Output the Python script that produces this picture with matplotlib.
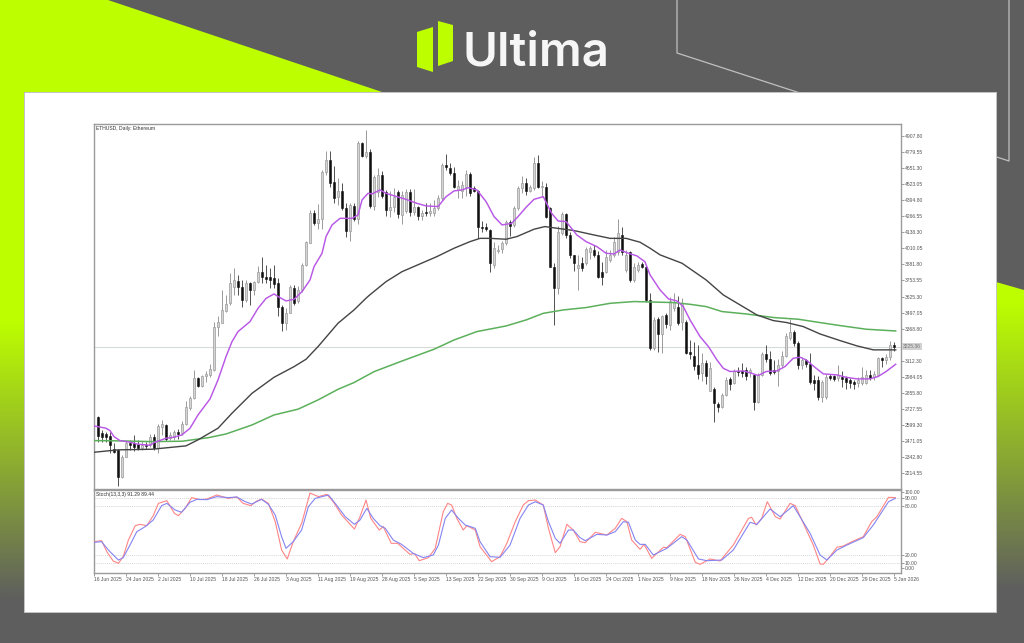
import numpy as np
import matplotlib
matplotlib.use('Agg')
import matplotlib.pyplot as plt
from matplotlib.colors import LinearSegmentedColormap
from matplotlib.patches import Polygon, Rectangle

plt.rcParams['font.family'] = ['Liberation Sans', 'DejaVu Sans']

opens = [2666, 2533, 2527, 2511, 2405, 2400, 2187, 2346, 2453, 2453,
         2448, 2413, 2440, 2440, 2506, 2413, 2581, 2600, 2493, 2506,
         2546, 2533, 2607, 2733, 2812, 2972, 2911, 2990, 3002, 3039,
         3385, 3417, 3513, 3570, 3705, 3752, 3705, 3600, 3730, 3678,
         3745, 3819, 3784, 3780, 3771, 3731, 3545, 3417, 3492, 3696,
         3590, 3678, 3878, 4056, 4290, 4210, 4245, 4623, 4716, 4538,
         4418, 4469, 4330, 4152, 4350, 4243, 4850, 4748, 4783, 4349,
         4463, 4597, 4463, 4317, 4340, 4463, 4277, 4312, 4463, 4304,
         4338, 4269, 4304, 4296, 4296, 4330, 4410, 4676, 4655, 4615,
         4477, 4472, 4503, 4605, 4490, 4472, 4184, 4178, 4157, 3878,
         3990, 4003, 4051, 4224, 4197, 4330, 4495, 4535, 4472, 4490,
         4690, 4498, 4503, 4330, 3864, 3691, 4131, 4282, 4117, 3957,
         3851, 3891, 3891, 3984, 3997, 3957, 3824, 3824, 3917, 3957,
         3984, 4117, 3838, 3984, 3758, 3838, 3886, 3864, 3598, 3212,
         3444, 3324, 3478, 3398, 3531, 3545, 3425, 3425, 3185, 3151,
         3079, 3012, 3092, 2874, 2887, 2767, 2746, 2839, 2964, 2932,
         3033, 3033, 3039, 3025, 2999, 2786, 2999, 3167, 3124, 3039,
         3033, 3079, 3151, 3292, 3345, 3252, 3079, 3119, 3087, 2959,
         2959, 2820, 2820, 2991, 2991, 2972, 2986, 2972, 2959, 2946,
         2932, 2932, 2938, 2999, 2980, 2999, 3132, 3119, 3145, 3239]
closes = [2512, 2506, 2506, 2440, 2384, 2187, 2346, 2453, 2437, 2426,
          2413, 2440, 2432, 2506, 2413, 2591, 2607, 2485, 2520, 2546,
          2527, 2607, 2740, 2812, 2972, 2911, 2991, 3005, 3044, 3385,
          3425, 3518, 3566, 3736, 3758, 3705, 3600, 3730, 3678, 3745,
          3819, 3780, 3763, 3758, 3726, 3540, 3417, 3497, 3705, 3571,
          3678, 3878, 4059, 4290, 4210, 4245, 4623, 4716, 4530, 4410,
          4469, 4330, 4152, 4357, 4243, 4855, 4748, 4783, 4349, 4583,
          4597, 4429, 4317, 4344, 4418, 4285, 4437, 4463, 4304, 4338,
          4269, 4296, 4290, 4312, 4330, 4410, 4676, 4658, 4615, 4503,
          4509, 4517, 4605, 4450, 4472, 4184, 4170, 4165, 3891, 4011,
          4000, 4051, 4224, 4189, 4330, 4495, 4530, 4472, 4498, 4690,
          4503, 4510, 4264, 3864, 3691, 4144, 4282, 4117, 3957, 3891,
          3878, 3851, 4003, 4011, 3957, 3784, 3784, 3944, 3958, 4064,
          4131, 3984, 3957, 3758, 3864, 3878, 3864, 3598, 3212, 3438,
          3324, 3470, 3406, 3593, 3585, 3412, 3571, 3177, 3167, 3071,
          3007, 3097, 2991, 3052, 2772, 2746, 2839, 2959, 2927, 3033,
          3023, 3012, 2991, 3039, 2786, 2999, 3167, 3124, 3018, 3023,
          3079, 3151, 3310, 3345, 3252, 3079, 3119, 3087, 2946, 2938,
          2820, 2946, 2986, 2975, 2970, 2999, 2965, 2946, 2938, 2924,
          2959, 2986, 2999, 2972, 3007, 3132, 3119, 3145, 3239, 3225]
highs = [2671, 2560, 2546, 2546, 2453, 2405, 2360, 2480, 2480, 2520,
         2475, 2470, 2460, 2530, 2530, 2605, 2635, 2610, 2540, 2560,
         2565, 2630, 2790, 2830, 3040, 2985, 3000, 3030, 3085, 3420,
         3470, 3678, 3640, 3816, 3851, 3800, 3755, 3760, 3745, 3750,
         3866, 3940, 3880, 3855, 3880, 3770, 3560, 3530, 3720, 3715,
         3710, 3890, 4070, 4315, 4320, 4365, 4635, 4785, 4785, 4665,
         4570, 4530, 4370, 4375, 4370, 4865, 4860, 4955, 4800, 4600,
         4655, 4625, 4480, 4470, 4490, 4480, 4470, 4485, 4485, 4485,
         4345, 4320, 4375, 4370, 4400, 4440, 4695, 4765, 4690, 4660,
         4560, 4550, 4640, 4620, 4510, 4480, 4225, 4210, 4165, 4060,
         4040, 4065, 4240, 4235, 4345, 4505, 4590, 4570, 4520, 4740,
         4755, 4545, 4530, 4340, 3890, 4190, 4300, 4290, 4140, 3960,
         3960, 3945, 4020, 4030, 4040, 3985, 3900, 3995, 4000, 4100,
         4245, 4180, 4000, 3990, 3890, 3905, 3905, 3880, 3650, 3460,
         3460, 3480, 3490, 3625, 3650, 3630, 3610, 3440, 3280, 3260,
         3240, 3175, 3115, 3100, 2900, 2785, 2855, 2980, 2985, 3050,
         3060, 3095, 3060, 3055, 3010, 3012, 3180, 3235, 3190, 3120,
         3130, 3190, 3330, 3445, 3360, 3270, 3140, 3130, 3170, 3000,
         2990, 2960, 3005, 3010, 3000, 3075, 3030, 2990, 2975, 2960,
         2985, 3060, 3040, 3035, 3030, 3145, 3140, 3165, 3268, 3260]
lows = [2466, 2466, 2466, 2373, 2373, 2112, 2173, 2341, 2400, 2394,
        2400, 2395, 2410, 2420, 2395, 2373, 2520, 2470, 2480, 2480,
        2490, 2515, 2600, 2720, 2805, 2900, 2900, 2945, 2985, 3030,
        3310, 3415, 3500, 3555, 3640, 3640, 3540, 3580, 3555, 3640,
        3735, 3730, 3730, 3690, 3690, 3470, 3353, 3360, 3490, 3560,
        3575, 3660, 3870, 4055, 4200, 4165, 4165, 4600, 4500, 4370,
        4360, 4320, 4100, 4065, 4225, 4205, 4740, 4730, 4335, 4320,
        4420, 4410, 4265, 4260, 4300, 4252, 4205, 4290, 4265, 4280,
        4235, 4240, 4270, 4265, 4270, 4320, 4395, 4640, 4600, 4490,
        4415, 4410, 4430, 4430, 4460, 4090, 4140, 4145, 3820, 3855,
        3975, 3970, 4035, 4110, 4180, 4320, 4450, 4440, 4460, 4480,
        4490, 4420, 4250, 3862, 3399, 3645, 4120, 4090, 3930, 3830,
        3678, 3830, 3880, 3925, 3940, 3770, 3715, 3810, 3900, 3945,
        3960, 3960, 3820, 3745, 3745, 3825, 3850, 3585, 3200, 3200,
        3180, 3175, 3370, 3360, 3510, 3395, 3360, 3165, 3130, 3040,
        2970, 2950, 2930, 2870, 2625, 2700, 2735, 2830, 2880, 2925,
        2990, 2985, 2960, 2980, 2720, 2775, 2990, 3100, 3000, 3010,
        2910, 3060, 3140, 3280, 3230, 3050, 3050, 3060, 2930, 2880,
        2800, 2786, 2810, 2960, 2950, 2950, 2900, 2890, 2895, 2890,
        2905, 2920, 2925, 2960, 2960, 2990, 3060, 3090, 3120, 3190]

# moving averages, read at a bar position then value
purple_bars = [-1, 2, 3, 4, 5.5, 8, 10, 13, 14, 17, 19, 21, 23, 25, 28, 30, 32, 33.5, 35, 38, 40, 42,
               44, 45, 47, 49, 51, 53, 54, 56, 57, 58.5, 60.5, 63.5, 65, 66, 67.5,
               68.5, 70.5, 72, 74.7, 77, 79.7, 82, 85, 87, 89, 91, 92.6, 94.7, 97, 99, 101, 103.4, 105,
               107, 109, 111.3, 113.4, 115, 117, 119.7, 122, 124.7, 127, 129, 130.5, 132.6, 134.7,
               135.5, 136.7, 138, 140.5, 142.6, 144.7, 146.3, 148, 150.5, 152.6, 154.7, 156.3, 158,
               161.3, 163.4, 165, 167, 169.7, 171.7, 173.8, 175.5, 177, 179, 181.3, 184.7, 187, 189.7,
               193, 195, 197, 199.4]
purple_ma = [2591, 2573, 2554, 2506, 2474, 2461, 2445, 2437, 2458, 2493, 2501, 2520, 2573, 2679, 2807,
             2959, 3145, 3265, 3345, 3425, 3531, 3610,
             3646, 3625, 3590, 3603, 3665, 3758, 3864, 3971, 4104, 4197, 4250, 4250, 4277, 4397, 4450,
             4445, 4477, 4450, 4423, 4402, 4370, 4349, 4344, 4423, 4469, 4477, 4495, 4477, 4384, 4264,
             4197, 4210, 4264, 4338, 4402, 4423, 4290, 4229, 4224, 4117, 4064, 4024, 3971, 3965, 3997,
             3971, 3950, 3931, 3904, 3798, 3678, 3606, 3590, 3545, 3438, 3305, 3225, 3119, 3052, 3026,
             3031, 3012, 2994, 3026, 3031, 3065, 3132, 3140, 3119, 3065, 3007, 2999, 2980, 2967,
             2967, 2986, 3026, 3084]
black_bars = [-1, 5, 13.5, 22, 25, 30, 33.5, 38.5, 44, 49, 52, 55, 60, 64, 67, 68, 72, 76, 80.5, 84.7, 89,
              93, 95.5, 98, 102, 104.7, 109, 111.7, 114.7, 119, 124, 128, 132, 135.5, 138, 140.5, 146,
              152, 156.3, 160.5, 164.7, 168.8, 172.2, 176.3, 180.5, 185.5, 189.7, 193.8, 199.4]
black_ma = [2381, 2400, 2405, 2432, 2480, 2573, 2693, 2852, 2980, 3065, 3124, 3225, 3412, 3518, 3612,
            3640, 3744, 3824, 3886, 3944, 4011, 4064, 4090, 4090, 4083, 4104, 4163, 4184, 4171, 4152,
            4117, 4090, 4090, 4059, 4011, 3958, 3891, 3758, 3638, 3558, 3478, 3433, 3417, 3385, 3326,
            3273, 3231, 3199, 3199]
green_bars = [-1, 5, 13.5, 21, 27.7, 32, 38.5, 44, 50, 55, 60, 64, 69, 76, 84, 89, 94.7, 102, 107, 111.3,
              116.3, 122, 128, 134, 143.8, 148, 152, 156, 162, 169, 175, 180.5, 185.5, 192, 199.4]
green_ma = [2474, 2472, 2466, 2469, 2498, 2527, 2599, 2679, 2725, 2799, 2884, 2938, 3025, 3110, 3204,
            3278, 3345, 3390, 3438, 3491, 3518, 3537, 3571, 3585, 3577, 3563, 3545, 3505, 3486, 3457,
            3444, 3417, 3393, 3364, 3350]

# stochastic lines
k_bars = [-1, 0.9, 2.2, 3.8, 5.1, 6.3, 7.6, 9.3, 10.5, 12.2, 13.8, 15.1, 17.2, 19.1, 20.1, 21.8, 23.4, 25.5,
          27.2, 29.7, 32.6, 34.7, 36.3, 38.2, 39.7, 40.9, 42.6, 44.3, 45.9, 47.3, 48.8, 50.9, 53, 55.1, 57.2,
          58.8, 60.9, 64.1, 65.5, 67, 68.2, 70.3, 71.3, 73.3, 74.9, 78, 79.1, 80.3, 82.6, 84.3, 86.3, 87.4,
          88.4, 89.7, 91.3, 92.2, 94.3, 95.5, 98.4, 100.5, 102.2, 104.3, 106.3, 107.6, 109.3, 111.3, 112.6,
          114.3, 115.5, 117.2, 118.8, 120.5, 121.8, 124.3, 127.2, 129.3, 130.9, 132.2, 133.4, 135.5, 136.5,
          138.4, 141.3, 142.2, 145.5, 146.8, 149.3, 150.5, 153, 155.5, 158.8, 162.6, 163.4, 164.5, 165.9,
          167.3, 169.3, 170.5, 173, 174.3, 178.8, 180.5, 181.3, 182.6, 184.7, 186.3, 188.8, 191.3, 193.4,
          194.7, 197.6, 199.3]
k_vals = [36.3, 37.5, 24.1, 12.7, 9.9, 18, 38.3, 55.8, 57.4, 55.8, 68, 83, 86.3, 70.8, 68, 77, 90, 87.5,
          88.3, 93.2, 89.1, 90.8, 83, 80.2, 85.9, 88.3, 83, 60.7, 26.1, 15.2, 36.3, 58.7, 95.6, 91.2, 94,
          85, 68.8, 51.7, 66.8, 87.1, 64.7, 50.5, 54.6, 34.3, 34.3, 20.8, 22, 13.1, 16.8, 28.2, 72.9, 83,
          81, 64.7, 50.5, 55.8, 50.5, 30.2, 11.9, 18, 34.3, 60.7, 81, 86.3, 87.1, 81, 52.6,
          22.9, 30.2, 57.4, 50.5, 36.3, 35.1, 47.7, 44.4, 52.6, 64.7, 60.7, 38.3, 27, 33,
          16, 29.4, 29, 45.2, 42.4, 11.1, 8.7, 15.2, 12.7, 32.2, 64.7, 66, 56.6, 64.7,
          85, 66.8, 63.9, 83, 80.2, 32.2, 9.1, 8.7, 16, 29.4, 31, 37.1, 42.4, 60.7,
          66.8, 90.4, 90]
d_bars = [-1, 0.9, 2.6, 5.1, 6.3, 8, 9.7, 11.8, 13.8, 15.9, 17.2, 19.3, 20.9, 23, 24.7, 27.2, 29.7, 32.6, 34.7,
          36.8, 38.4, 40.9, 42.6, 44.3, 45.9, 47, 48.8, 50.9, 52.6, 54.3, 57.6, 59.3, 61.8, 64.1, 65.5, 67.2,
          68.8, 70.5, 71.8, 73.8, 75.9, 78.8, 81.3, 83.8, 85.1, 86.8, 88.4, 90.1, 91.8, 94.3, 95.5, 98, 100.5,
          103, 105.5, 107.6, 109.3, 111.3, 112.6, 114.3, 115.5, 117.6, 118.8, 120.5, 121.8, 124.7, 127.2,
          129.3, 131.3, 132.6, 134.3, 135.5, 136.8, 138.8, 142.2, 145.9, 147.2, 150.1, 152.2, 155.9, 158.8,
          163, 164.7, 168, 170.5, 173.8, 178, 180.5, 182.2, 184.7, 187.2, 191.3, 193.8, 197.6, 199.3]
d_vals = [35.5, 36.3, 26.1, 13.9, 16.8, 32.2, 48.5, 54.6, 62.7, 80.2, 83, 74.9, 72.1, 84.3, 87.9, 87.5, 91.2,
          90, 90.8, 85.1, 82.2, 87.9, 81.8, 68.8, 42.4, 28.2, 36.3, 50.5, 79, 89.1, 93.2, 83, 66.8, 57.4,
          62.7, 77, 64.7, 55.8, 52.6, 38.3, 33, 22, 16.8, 20, 32.2, 64.7, 74.9, 64.7, 56.6, 52.6, 36.3, 18,
          17.2, 32.2, 64.7, 81, 85, 81, 60.7, 40.4, 34.3, 50.5, 50.5, 41.2, 37.5, 45.2, 44.4,
          48.5, 60.7, 59.9, 38.3, 33, 33, 20, 28.2, 42.4, 38.3, 15.2, 13.1, 13.9, 26.1,
          59.9, 57.4, 76.1, 66.8, 80.2, 46.5, 20, 13.9, 26.1, 32.2, 41.2, 56.6, 85, 89.1]

price_labels = ['4907.80', '4779.55', '4651.30', '4523.05', '4394.80', '4266.55', '4138.30', '4010.05',
                '3881.80', '3753.55', '3625.30', '3497.05', '3368.80', '3112.30', '2984.05', '2855.80',
                '2727.55', '2599.30', '2471.05', '2342.80', '2214.55']
date_labels = ['16 Jun 2025', '24 Jun 2025', '2 Jul 2025', '10 Jul 2025', '18 Jul 2025', '26 Jul 2025',
               '3 Aug 2025', '11 Aug 2025', '19 Aug 2025', '28 Aug 2025', '5 Sep 2025', '13 Sep 2025',
               '22 Sep 2025', '30 Sep 2025', '9 Oct 2025', '16 Oct 2025', '24 Oct 2025', '1 Nov 2025',
               '9 Nov 2025', '18 Nov 2025', '26 Nov 2025', '4 Dec 2025', '12 Dec 2025', '20 Dec 2025',
               '29 Dec 2025', '5 Jan 2026']
last_price = 3225.36

fig = plt.figure(figsize=(10.24, 6.43), dpi=100)

# backdrop, in pixel coordinates
bg = fig.add_axes([0, 0, 1, 1])
grey = '#5e5e5e'
lime = '#bdff00'
bg.add_patch(Rectangle((0, 0), 1024, 643, color=grey, lw=0))
fade = LinearSegmentedColormap.from_list('fade', [lime, grey])
ramp = np.linspace(0, 1, 256).reshape(-1, 1)
bg.imshow(ramp, cmap=fade, extent=(0, 24, 600, 320), aspect='auto', zorder=1)
bg.imshow(ramp, cmap=fade, extent=(996, 1024, 590, 300), aspect='auto', zorder=1)
bg.add_patch(Rectangle((0, 92), 24, 228, color=lime, lw=0, zorder=1))
bg.add_patch(Polygon([(996, 282), (1024, 290), (1024, 301), (996, 301)], color=lime, lw=0, zorder=1))
bg.add_patch(Polygon([(0, 0), (108, 0), (382, 92), (0, 92)], color=lime, lw=0, zorder=1))
bg.plot([677, 677, 1009, 1009], [0, 53, 161, 0], color='#c0c0c0', lw=0.9, zorder=1)
bg.set_xlim(0, 1024)
bg.set_ylim(643, 0)
bg.axis('off')
bg.add_patch(Rectangle((24, 92), 972, 520, facecolor='white', edgecolor='#c4c4c4', lw=0.7, zorder=2))
bg.add_patch(Polygon([(417, 32), (433, 27), (433, 72), (417, 67)], color=lime, lw=0, zorder=3))
bg.add_patch(Polygon([(438, 21), (453, 25), (453, 61), (438, 66)], color=lime, lw=0, zorder=3))
bg.text(462.5, 65, 'Ultima', color='#f6f6f6', fontsize=34.2, fontweight='semibold', family='Inter',
        ha='left', va='baseline', zorder=3)

# main price panel
W, H = 1024.0, 643.0
ax = fig.add_axes([94 / W, 1 - 488.5 / H, (900.5 - 94) / W, (488.5 - 124) / H])
price_top = 4907.8 + 12 * 7.99
price_bot = 4907.8 - (488.5 - 136) * 7.99
ax.set_xlim(-1, 200.6)
ax.set_ylim(price_bot, price_top)

bars = np.arange(len(closes))
o, c, h, l = map(np.array, (opens, closes, highs, lows))
up = c >= o
ax.vlines(bars[up], l[up], h[up], color='#9a9a9a', lw=0.7, zorder=2)
ax.vlines(bars[~up], l[~up], h[~up], color='#505050', lw=0.7, zorder=2)
ax.bar(bars[up], (c - o)[up], bottom=o[up], width=0.62, facecolor='#d4d4d4', edgecolor='#9a9a9a', lw=0.5, zorder=3)
ax.bar(bars[~up], (c - o)[~up], bottom=o[~up], width=0.62, facecolor='#101010', edgecolor='#101010', lw=0.4, zorder=3)
ax.axhline(last_price, color='#d5dcd8', lw=0.8, zorder=1)
ax.plot(green_bars, green_ma, color='#5cb05c', lw=1.1, zorder=4)
ax.plot(black_bars, black_ma, color='#444444', lw=1.0, zorder=4)
ax.plot(purple_bars, purple_ma, color='#b957e6', lw=1.05, zorder=5)

ax.yaxis.tick_right()
price_ticks = [float(s) for s in price_labels]
ax.set_yticks(price_ticks)
ax.set_yticklabels(price_labels, fontsize=3.6, color='#555555')
ax.tick_params(axis='y', length=2, width=0.5, color='#777777', pad=1)
ax.set_xticks([])
ax.text(0.002, 0.9945, 'ETHUSD, Daily: Ethereum', transform=ax.transAxes, fontsize=3.6, color='#333333',
        ha='left', va='top')
ax.text(1.003, last_price, '%.2f' % last_price, transform=ax.get_yaxis_transform(), fontsize=3.6,
        color='#777777', va='center', ha='left', clip_on=False,
        bbox=dict(facecolor='#d2d2d2', edgecolor='none', pad=0.7))
for s in ax.spines.values():
    s.set_color('#9a9a9a')
    s.set_linewidth(1.0)

# stochastic panel
ax2 = fig.add_axes([94 / W, 1 - 573 / H, (900.5 - 94) / W, (573 - 490) / H])
ax2.set_xlim(-1, 200.6)
ax2.set_ylim(-1.9, 99.3)
for level in [90, 80, 20, 10]:
    ax2.axhline(level, color='#c8c8c8', lw=0.5, ls=(0, (1.5, 1.5)), zorder=1)
ax2.plot(k_bars, k_vals, color='#ff8585', lw=0.8, zorder=3)
ax2.plot(d_bars, d_vals, color='#8484f2', lw=0.8, zorder=3)
ax2.yaxis.tick_right()
ax2.set_yticks([4, 10, 20, 80, 90, 96.8])
ax2.set_yticklabels(['0.00', '10.00', '20.00', '80.00', '90.00', '100.00'], fontsize=3.6, color='#555555')
ax2.tick_params(axis='y', length=2, width=0.5, color='#777777', pad=1)
ax2.set_xticks(np.arange(-1, 200, 8))
ax2.set_xticklabels(date_labels, fontsize=3.6, color='#555555', ha='left')
ax2.tick_params(axis='x', length=2, width=0.5, color='#777777', pad=1)
ax2.text(0.002, 0.975, 'Stoch(13,3,3) 91.29 89.44', transform=ax2.transAxes, fontsize=3.6, color='#333333',
         ha='left', va='top')
for s in ax2.spines.values():
    s.set_color('#9a9a9a')
    s.set_linewidth(1.0)

fig.savefig('out.png', dpi=100)
